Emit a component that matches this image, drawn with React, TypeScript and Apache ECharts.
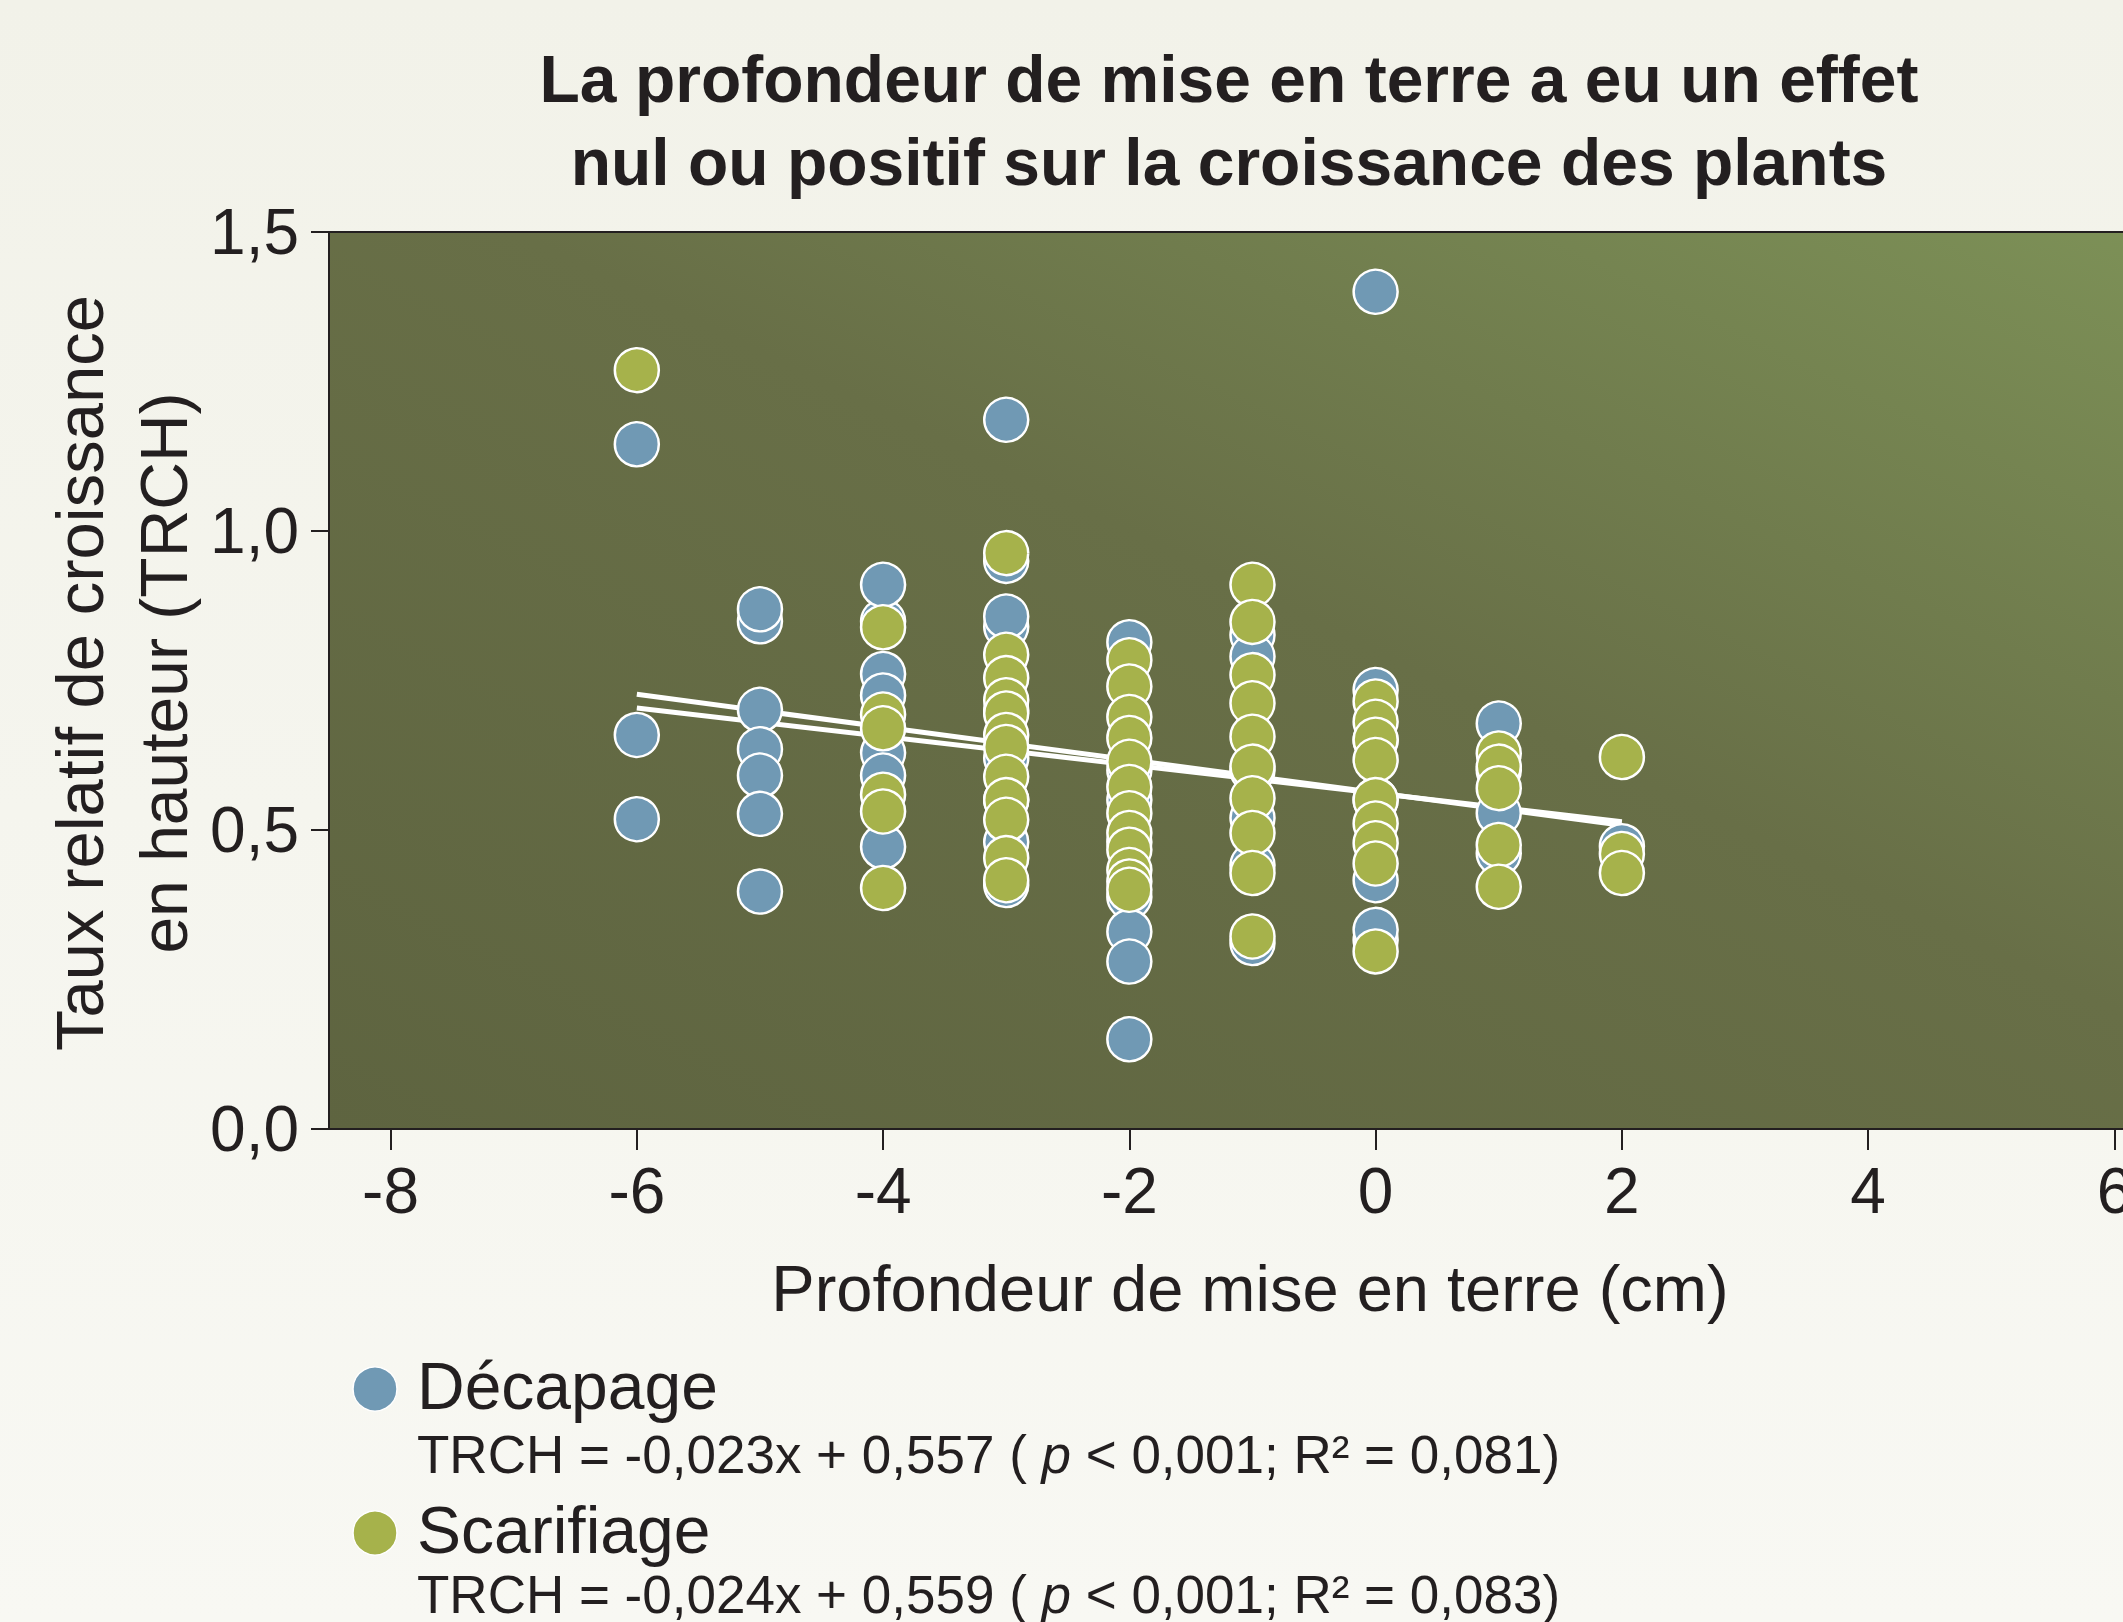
import React, { useEffect, useRef } from "react";
import * as echarts from "echarts";

const titleLines = [
  "La profondeur de mise en terre a eu un effet",
  "nul ou positif sur la croissance des plants",
];
const xAxisTitle = "Profondeur de mise en terre (cm)";
const yAxisTitleLines = ["Taux relatif de croissance", "en hauteur (TRCH)"];
const xTickValues = [-8, -6, -4, -2, 0, 2, 4, 6];
const seriesNames = ["Décapage", "Scarifiage"];
const equationTexts = [
  "TRCH = -0,023x + 0,557 ( {i|p} < 0,001; R² = 0,081)",
  "TRCH = -0,024x + 0,559 ( {i|p} < 0,001; R² = 0,083)",
];

// Décapage (blue) points [depth, TRCH]
const decapagePoints: [number, number][] = [
  [-6, 1.145], [-6, 0.659], [-6, 0.518],
  [-5, 0.849], [-5, 0.869], [-5, 0.701], [-5, 0.635], [-5, 0.591], [-5, 0.527], [-5, 0.397],
  [-4, 0.849], [-4, 0.910], [-4, 0.761], [-4, 0.725], [-4, 0.629], [-4, 0.591], [-4, 0.472],
  [-3, 1.186], [-3, 0.950], [-3, 0.840], [-3, 0.857], [-3, 0.700], [-3, 0.620], [-3, 0.550], [-3, 0.480], [-3, 0.408],
  [-2, 0.814], [-2, 0.600], [-2, 0.550], [-2, 0.480], [-2, 0.388], [-2, 0.330], [-2, 0.280], [-2, 0.150],
  [-1, 0.826], [-1, 0.790], [-1, 0.600], [-1, 0.520], [-1, 0.441], [-1, 0.311],
  [0, 1.400], [0, 0.734], [0, 0.650], [0, 0.550], [0, 0.416], [0, 0.316], [0, 0.333],
  [1, 0.678], [1, 0.600], [1, 0.528], [1, 0.461],
  [2, 0.473],
];

// Scarifiage (green) points [depth, TRCH]
const scarifiagePoints: [number, number][] = [
  [-6, 1.269],
  [-4, 0.839], [-4, 0.693], [-4, 0.670], [-4, 0.559], [-4, 0.531], [-4, 0.403],
  [-3, 0.963], [-3, 0.793], [-3, 0.754], [-3, 0.717], [-3, 0.695], [-3, 0.659], [-3, 0.639],
  [-3, 0.589], [-3, 0.550], [-3, 0.517], [-3, 0.453], [-3, 0.416],
  [-2, 0.784], [-2, 0.740], [-2, 0.689], [-2, 0.654], [-2, 0.614], [-2, 0.572], [-2, 0.528],
  [-2, 0.495], [-2, 0.467], [-2, 0.433], [-2, 0.414], [-2, 0.400],
  [-1, 0.910], [-1, 0.848], [-1, 0.759], [-1, 0.712], [-1, 0.656], [-1, 0.606], [-1, 0.553],
  [-1, 0.495], [-1, 0.428], [-1, 0.322],
  [0, 0.715], [0, 0.681], [0, 0.651], [0, 0.617], [0, 0.550], [0, 0.511], [0, 0.478], [0, 0.444], [0, 0.297],
  [1, 0.628], [1, 0.606], [1, 0.570], [1, 0.475], [1, 0.405],
  [2, 0.622], [2, 0.460], [2, 0.428],
];

// Regression lines as drawn
const trendDecapage: [number, number][] = [[-6, 0.704], [2, 0.514]];
const trendScarifiage: [number, number][] = [[-6, 0.727], [2, 0.508]];

const BLUE = "#7099b4";
const GREEN = "#a6b24b";
const INK = "#231f20";
const FONT = '"Liberation Sans", Arial, Helvetica, sans-serif';

export default function App() {
  const ref = useRef<HTMLDivElement>(null);
  useEffect(() => {
    if (!ref.current) return;
    const chart = echarts.init(ref.current, null, { renderer: "svg" });
    const gridLeft = 329;
    const gridTop = 232;
    const gridBottomY = 1129;
    const option: any = {
      animation: false,
      backgroundColor: {
        type: "linear", x: 0, y: 0, x2: 0, y2: 1,
        colorStops: [
          { offset: 0, color: "#f2f2e9" },
          { offset: 1, color: "#f8f8f3" },
        ],
      },
      textStyle: { fontFamily: FONT },
      grid: {
        left: gridLeft,
        top: gridTop,
        width: 1847,
        height: gridBottomY - gridTop,
        containLabel: false,
        outerBoundsMode: "none",
        show: true,
        borderColor: INK,
        borderWidth: 2,
        backgroundColor: {
          type: "linear", x: 0, y: 1, x2: 1, y2: 0,
          colorStops: [
            { offset: 0, color: "#5e6440" },
            { offset: 0.55, color: "#686f47" },
            { offset: 1, color: "#7d9157" },
          ],
        },
      },
      xAxis: {
        type: "value",
        min: -8.5,
        max: 6.5,
        splitLine: { show: false },
        axisLine: { show: true, onZero: false, lineStyle: { color: INK, width: 2 } },
        axisTick: { show: true, length: 21, lineStyle: { color: INK, width: 2 }, customValues: xTickValues },
        axisLabel: {
          customValues: xTickValues,
          color: INK,
          fontSize: 64,
          fontFamily: FONT,
          margin: 30,
          hideOverlap: false,
          formatter: (v: number) => String(v),
        },
      },
      yAxis: {
        type: "value",
        min: 0,
        max: 1.5,
        interval: 0.5,
        splitLine: { show: false },
        axisLine: { show: true, onZero: false, lineStyle: { color: INK, width: 2 } },
        axisTick: { show: true, length: 18, lineStyle: { color: INK, width: 2 } },
        axisLabel: {
          color: INK,
          fontSize: 64,
          fontFamily: FONT,
          margin: 30,
          formatter: (v: number) => v.toFixed(1).replace(".", ","),
        },
      },
      series: [
        {
          type: "line",
          data: trendDecapage,
          symbol: "none",
          z: 1,
          lineStyle: { color: "#ffffff", width: 5 },
          silent: true,
        },
        {
          type: "line",
          data: trendScarifiage,
          symbol: "none",
          z: 1,
          lineStyle: { color: "#ffffff", width: 5 },
          silent: true,
        },
        {
          name: seriesNames[0],
          type: "scatter",
          data: decapagePoints,
          symbol: "circle",
          symbolSize: 44,
          z: 2,
          itemStyle: { color: BLUE, borderColor: "#ffffff", borderWidth: 2.5, opacity: 1 },
        },
        {
          name: seriesNames[1],
          type: "scatter",
          data: scarifiagePoints,
          symbol: "circle",
          symbolSize: 44,
          z: 3,
          itemStyle: { color: GREEN, borderColor: "#ffffff", borderWidth: 2.5, opacity: 1 },
        },
      ],
      graphic: [
        {
          type: "text",
          x: 1229, y: 79,
          style: {
            text: titleLines[0], fill: INK, fontSize: 66, fontWeight: "bold", fontFamily: FONT,
            align: "center", verticalAlign: "middle",
          },
        },
        {
          type: "text",
          x: 1229, y: 162,
          style: {
            text: titleLines[1], fill: INK, fontSize: 66, fontWeight: "bold", fontFamily: FONT,
            align: "center", verticalAlign: "middle",
          },
        },
        {
          type: "text",
          x: 1250, y: 1288,
          style: {
            text: xAxisTitle, fill: INK, fontSize: 65, fontFamily: FONT,
            align: "center", verticalAlign: "middle",
          },
        },
        {
          type: "text",
          x: 79, y: 673, rotation: Math.PI / 2,
          style: {
            text: yAxisTitleLines[0], fill: INK, fontSize: 67, fontFamily: FONT,
            align: "center", verticalAlign: "middle",
          },
        },
        {
          type: "text",
          x: 164, y: 673, rotation: Math.PI / 2,
          style: {
            text: yAxisTitleLines[1], fill: INK, fontSize: 66, fontFamily: FONT,
            align: "center", verticalAlign: "middle",
          },
        },
        {
          type: "circle",
          shape: { cx: 375, cy: 1389, r: 22 },
          style: { fill: BLUE, stroke: "#ffffff", lineWidth: 1.5 },
        },
        {
          type: "text",
          x: 417, y: 1386,
          style: {
            text: seriesNames[0], fill: INK, fontSize: 66, fontFamily: FONT,
            align: "left", verticalAlign: "middle",
          },
        },
        {
          type: "text",
          x: 417, y: 1454,
          style: {
            text: equationTexts[0], fill: INK, fontSize: 53, fontFamily: FONT,
            align: "left", verticalAlign: "middle",
            rich: { i: { fontStyle: "italic", fontSize: 53, fontFamily: FONT, fill: INK } },
          },
        },
        {
          type: "circle",
          shape: { cx: 375, cy: 1533, r: 22 },
          style: { fill: GREEN, stroke: "#ffffff", lineWidth: 1.5 },
        },
        {
          type: "text",
          x: 417, y: 1530,
          style: {
            text: seriesNames[1], fill: INK, fontSize: 66, fontFamily: FONT,
            align: "left", verticalAlign: "middle",
          },
        },
        {
          type: "text",
          x: 417, y: 1594,
          style: {
            text: equationTexts[1], fill: INK, fontSize: 53, fontFamily: FONT,
            align: "left", verticalAlign: "middle",
            rich: { i: { fontStyle: "italic", fontSize: 53, fontFamily: FONT, fill: INK } },
          },
        },
      ],
    };
    chart.setOption(option);
    return () => chart.dispose();
  }, []);
  return (
    <div
      ref={ref}
      style={{ position: "fixed", left: 0, top: 0, width: 2123, height: 1622 }}
    />
  );
}
